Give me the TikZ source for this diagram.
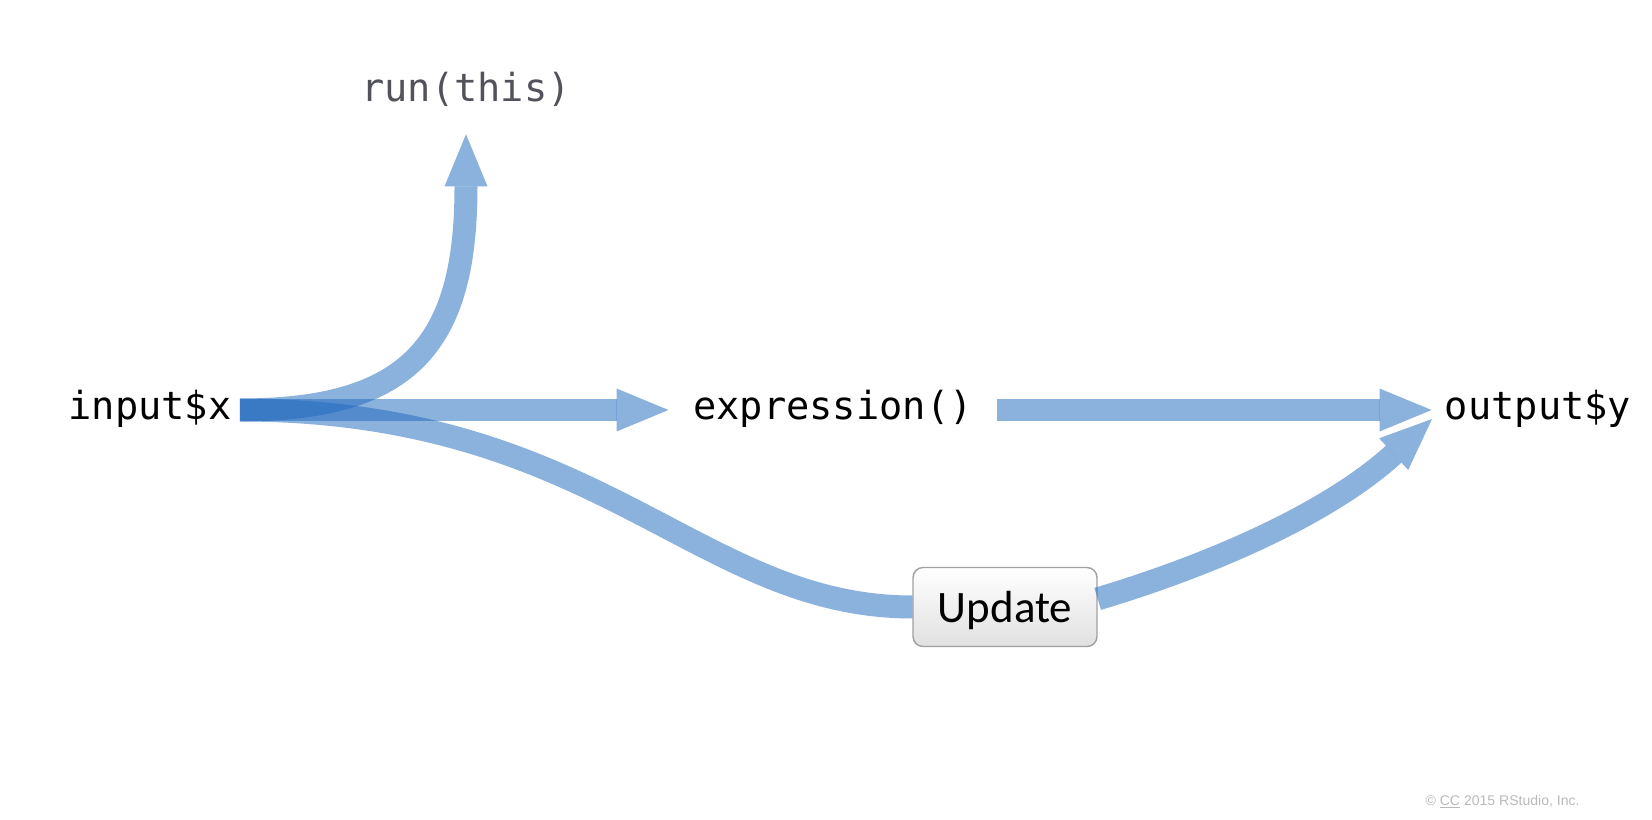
\documentclass[tikz,border=0pt]{standalone}
\usepackage{fontspec}
\usetikzlibrary{arrows.meta}
\newfontfamily\codefont{DejaVu Sans Mono}
\newfontfamily\btnfont{Carlito}
\newfontfamily\notefont{Liberation Sans}
\definecolor{flowblue}{RGB}{36,107,190}
\definecolor{rungray}{RGB}{82,82,90}
\definecolor{notegray}{RGB}{185,185,185}
\definecolor{btnborder}{RGB}{160,160,160}

\begin{document}
\begin{tikzpicture}[x=0.02cm,y=-0.02cm,
        code/.style={font=\codefont\fontsize{22}{26}\selectfont,inner ysep=0pt,text height=0.59cm,text depth=0.19cm},
        btn/.style={draw=btnborder,line width=0.8pt,rounded corners=0.2cm,top color=white,bottom color=black!12,
            minimum width=3.68cm,minimum height=1.58cm,inner sep=0pt,text height=0.8cm,text depth=0.2cm,
            font=\btnfont\fontsize{25.6}{30}\selectfont},
        flow/.style={draw=flowblue,opacity=0.53,line width=0.46cm},
        >={Triangle[length=1.04cm,width=0.86cm,line width=0pt]}]
        \useasboundingbox (0,0) rectangle (1652,820);
        \node[code,inner xsep=0.16cm] (inx) at (150,410) {input\$x};
        \node[code,inner xsep=0.49cm] (expr) at (833,410) {expression()};
        \node[code,inner xsep=0.26cm] (outy) at (1538,410) {output\$y};
        \node[code,inner ysep=0.45cm,text=rungray] (run) at (466,92) {run(this)};
        \node[btn] (upd) at (1005,607) {Update};
        \coordinate (outlow) at (1432,419);
        \draw[flow,->] (inx.east) -- (expr.west);
        \draw[flow,->] (expr.east) -- (outy.west);
        \draw[flow,->] (inx.east) .. controls +(170,0) and +(0,210) .. (run.south);
        \draw[flow] (inx.east) .. controls +(360,0) and +(-215,0) .. (upd.west);
        \draw[flow,->] (upd.5) .. controls +(130,-39) and +(-96,88) .. (outlow);
        \node[font=\notefont\fontsize{8}{10}\selectfont,text=notegray,anchor=base east,inner sep=0pt] (note)
            at (1580,805) {© \underline{CC} 2015 RStudio, Inc.};
    \end{tikzpicture}
\end{document}
